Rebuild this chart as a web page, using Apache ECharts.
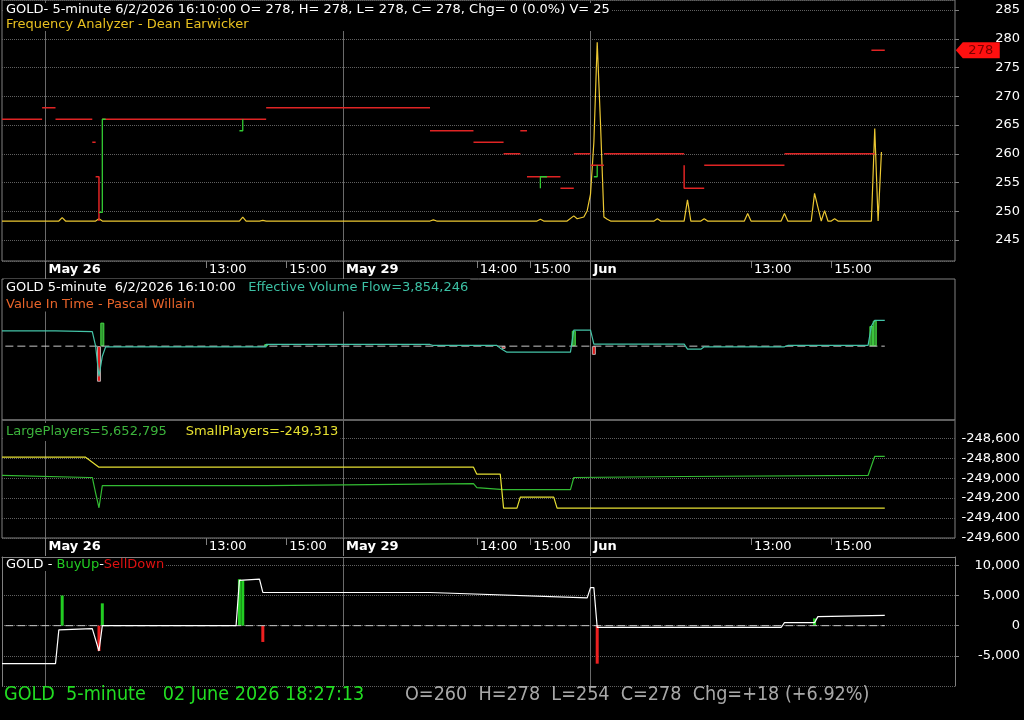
<!DOCTYPE html>
<html>
<head>
<meta charset="utf-8">
<script src="https://cdn.jsdelivr.net/npm/echarts@6/dist/echarts.min.js"></script>
<style>
html,body{margin:0;padding:0;background:#000;}
#chart{width:1024px;height:720px;}
</style>
</head>
<body>
<div id="chart"></div>
<script>
// bar index axis (5-minute bars)
var barCount = 286;
var xTicks = [[13,'May 26',1],[61,'13:00',0],[85,'15:00',0],[102,'May 29',1],[142,'14:00',0],[158,'15:00',0],[176,'Jun',1],[224,'13:00',0],[248,'15:00',0]];

// panel 1 - Frequency Analyzer
var freqLine = [[0,248.3],[17,248.3],[18,248.9],[19,248.3],[28,248.3],[29,248.7],[30,248.3],[71,248.3],[72,249.0],[73,248.3],[77,248.3],[78,248.4],[79,248.3],[128,248.3],[129,248.5],[130,248.3],[160,248.3],[161,248.6],[162,248.3],[169,248.3],[171,249.2],[172,248.7],[174,249.0],[175,250.1],[176,253],[177,262],[178,279.4],[179,265],[180,249.0],[181,248.6],[182,248.3],[195,248.3],[196,248.7],[197,248.3],[204,248.3],[205,252.0],[206,248.3],[209,248.3],[210,248.7],[211,248.3],[222,248.3],[223,249.6],[224,248.3],[233,248.3],[234,249.6],[235,248.3],[242,248.3],[243,253.1],[245,248.3],[246,250.1],[247,248.3],[248,248.3],[249,248.7],[250,248.3],[260,248.3],[261,264.4],[262,248.3],[263,260.3]];
var redLevels = [
  [[0,266],[12,266]], [[12,268],[16,268]], [[16,266],[27,266]], [[27,262],[28,262]],
  [[28,256],[29,256],[29,248.3]], [[30,266],[79,266]], [[79,268],[128,268]],
  [[128,264],[141,264]], [[141,262],[150,262]], [[150,260],[155,260]], [[155,264],[157,264]],
  [[157,256],[167,256]], [[167,254],[171,254]], [[171,260],[176,260]], [[176,258],[180,258]],
  [[180,260],[204,260]], [[204,258],[204,254],[210,254]], [[210,258],[234,258]],
  [[234,260],[261,260]], [[260,278],[264,278]]
];
var greenLevels = [
  [[29,249.8],[30,249.8],[30,266],[31,266]], [[71,264],[72,264],[72,266]],
  [[161,254],[161,256],[163,256]], [[177,256],[178,256],[178,258]]
];
var lastPrice = 278;

// panel 2 - Effective Volume Flow (millions)
var evfLine = [[0,2.28],[16,2.28],[16,2.16],[27,2.16],[28,0],[29,-4.5],[30,-1.5],[31,-0.1],[79,-0.1],[79,0.25],[128,0.25],[129,0.1],[148,0.1],[149,-0.3],[151,-0.9],[170,-0.9],[171,2.4],[176,2.4],[177,0.3],[204,0.3],[205,-0.45],[209,-0.45],[210,-0.1],[234,-0.1],[235,0.1],[259,0.1],[260,3.0],[261,3.85],[264,3.85]];
var evfHist = [[29,-5.3],[30,3.5],[79,0.3],[150,-0.4],[171,2.3],[177,-1.3],[260,3.0],[261,3.8]];

// panel 3 - players
var smallPlayers = [[0,-248790],[25,-248790],[29,-248890],[141,-248890],[142,-248960],[149,-248960],[150,-249300],[154,-249300],[155,-249190],[165,-249190],[166,-249300],[264,-249300]];
var largePlayers = [[0,3.75],[26,3.55],[27,3.55],[28,2.0],[29,0.55],[30,2.75],[79,2.75],[79,2.85],[141,2.95],[142,2.55],[150,2.35],[170,2.35],[171,3.55],[204,3.65],[259,3.75],[261,5.65],[264,5.65]];

// panel 4 - BuyUp-SellDown
var buySellLine = [[0,-6300],[16,-6300],[17,-700],[27,-500],[29,-4200],[30,0],[70,0],[71,7500],[77,7700],[78,5500],[128,5500],[175,4600],[176,6300],[177,6300],[178,-300],[233,-300],[234,500],[243,500],[244,1500],[264,1700]];
var buySellHist = [[18,5000],[29,-4200],[30,3700],[71,7700],[72,7500],[78,-2700],[178,-6300],[243,1200]];

var font = 'DejaVu Sans';
var narrowFont = "'Liberation Sans Narrow', 'DejaVu Sans Condensed', sans-serif";
var gridColor = '#808080';

initPage();

function initPage(){
  var myChart = echarts.init(document.getElementById('chart'));
  myChart.setOption(buildOption());
}

function joinSegments(segs){
  var out = [];
  for(var i=0;i<segs.length;i++){
    if(i>0) out.push([segs[i][0][0],'-']);
    for(var j=0;j<segs[i].length;j++) out.push(segs[i][j]);
  }
  return out;
}

// histogram items coloured by sign
function histItems(list, upStyle, downStyle){
  var out = [];
  for(var i=0;i<list.length;i++){
    out.push({value: list[i], itemStyle: list[i][1] >= 0 ? upStyle : downStyle});
  }
  return out;
}

function tickInfo(index){
  for(var i=0;i<xTicks.length;i++){
    if(xTicks[i][0]==index) return xTicks[i];
  }
  return null;
}

function makeXAxis(grid, showLabels, dayTicks, pos){
  var cats = [];
  for(var i=0;i<barCount;i++) cats.push(String(i));
  return {
    type: 'category', gridIndex: grid, data: cats, boundaryGap: false,
    position: pos || 'bottom',
    axisLine: {show: pos == 'top', onZero: false, lineStyle: {color: gridColor}},
    axisTick: {
      show: showLabels || dayTicks,
      length: dayTicks ? 18 : 7,
      interval: function(index){
        var t = tickInfo(index);
        return !!t && (dayTicks ? t[2]==1 : t[2]==0);
      },
      lineStyle: {color: gridColor}
    },
    axisLabel: {
      show: showLabels,
      interval: function(index){ return !!tickInfo(index); },
      formatter: function(value, index){
        var t = tickInfo(Number(value));
        if(!t) return '';
        return t[2] ? '{d|'+t[1]+'}' : '{t|'+t[1]+'}';
      },
      align: 'left', margin: 2, padding: [0,0,0,3],
      rich: {
        d: {color: '#fff', fontFamily: font, fontSize: 13, fontWeight: 'bold'},
        t: {color: '#fff', fontFamily: font, fontSize: 13}
      }
    },
    splitLine: {
      show: !dayTicks,
      interval: function(index){ var t = tickInfo(index); return !!t && t[2]==1; },
      lineStyle: {color: '#6a6a6a', width: 1}
    }
  };
}

function fmtThousands(v){
  var s = Math.abs(Math.round(v)).toString().replace(/\B(?=(\d{3})+(?!\d))/g, ',');
  return (v<0 ? '-' : '') + s;
}

function txt(color, size, lh){
  return {color: color, fontFamily: font, fontSize: size, fontWeight: 'normal', lineHeight: lh};
}

function buildOption(){
  var grids = [
    {left: 2, right: 69, top: 0, height: 261, show: true},
    {left: 2, right: 69, top: 279, height: 141, show: true},
    {left: 2, right: 69, top: 420, height: 118, show: true},
    {left: 2, right: 69, top: 557, height: 129, show: false}
  ];
  for(var i=0;i<grids.length;i++){
    grids[i].borderColor = gridColor;
    grids[i].borderWidth = 1;
    grids[i].backgroundColor = 'transparent';
  }
  var yLabel = {color: '#fff', fontFamily: font, fontSize: 13, align: 'right', margin: 65};
  var yTick = {show: true, length: 4, lineStyle: {color: gridColor}};
  var dotted = {show: true, lineStyle: {color: '#606060', type: 'dotted'}};

  var option = {
    backgroundColor: '#000',
    animation: false,
    textStyle: {fontFamily: font},
    grid: grids,
    xAxis: [
      makeXAxis(0, true, false), makeXAxis(0, false, true),
      makeXAxis(1, false, false),
      makeXAxis(2, true, false), makeXAxis(2, false, true),
      makeXAxis(3, false, false, 'top')
    ],
    yAxis: [
      {type: 'value', gridIndex: 0, position: 'right', min: 241.35, max: 286.74, splitNumber: 9,
        axisLine: {show: false}, axisTick: yTick, axisLabel: Object.assign({showMinLabel: false, showMaxLabel: false}, yLabel), splitLine: dotted},
      {type: 'value', gridIndex: 1, position: 'right', min: -11, max: 10, show: false, splitLine: {show: false}},
      {type: 'value', gridIndex: 2, position: 'right', min: -249600, max: -248417, interval: 200,
        axisLine: {show: false}, axisTick: {show: false},
        axisLabel: Object.assign({showMaxLabel: false, formatter: fmtThousands}, yLabel), splitLine: dotted},
      {type: 'value', gridIndex: 2, position: 'left', min: -2.45, max: 9.25, show: false, splitLine: {show: false}},
      {type: 'value', gridIndex: 3, position: 'right', min: -10000, max: 11380, interval: 5000,
        axisLine: {show: true, lineStyle: {color: gridColor}}, axisTick: yTick,
        axisLabel: Object.assign({showMinLabel: false, showMaxLabel: false, formatter: fmtThousands}, yLabel), splitLine: dotted},
      {type: 'value', gridIndex: 3, position: 'left', min: -10000, max: 11380,
        axisLine: {show: true, lineStyle: {color: gridColor}}, axisTick: {show: false}, axisLabel: {show: false}, splitLine: {show: false}}
    ],
    title: [
      {left: 4, top: 2, padding: [0,2], backgroundColor: '#000',
        text: '{w|GOLD- 5-minute 6/2/2026 16:10:00 O= 278, H= 278, L= 278, C= 278, Chg= 0 (0.0%) V= 25}\n{y|Frequency Analyzer - Dean Earwicker}',
        textStyle: {rich: {w: txt('#fff', 13, 15), y: txt('#e8c020', 13, 15)}}},
      {left: 4, top: 279, padding: [0,2], backgroundColor: '#000',
        text: '{w|GOLD 5-minute  6/2/2026 16:10:00}  {c|Effective Volume Flow=3,854,246}\n{o|Value In Time - Pascal Willain}',
        textStyle: {rich: {w: txt('#fff', 13, 16), c: txt('#3cc0a4', 13, 16), o: txt('#e8642a', 13, 16)}}},
      {left: 4, top: 423, padding: [0,2], backgroundColor: '#000',
        text: '{g|LargePlayers=5,652,795}   {y|SmallPlayers=-249,313}',
        textStyle: {rich: {g: txt('#3cb43c', 13, 15), y: txt('#e6e030', 13, 15)}}},
      {left: 4, top: 557, padding: [0,2], backgroundColor: '#000',
        text: '{w|GOLD - }{g|BuyUp}{w|-}{r|SellDown}',
        textStyle: {rich: {w: txt('#fff', 13, 15), g: txt('#22cc22', 13, 15), r: txt('#dd1111', 13, 15)}}},
      {left: 4, top: 683, padding: 0,
        text: 'GOLD  5-minute   02 June 2026 18:27:13',
        textStyle: {color: '#22dd22', fontFamily: narrowFont, fontSize: 19.6, fontWeight: 'normal', lineHeight: 24}},
      {left: 405, top: 683, padding: 0,
        text: 'O=260  H=278  L=254  C=278  Chg=+18 (+6.92%)',
        textStyle: {color: '#a8a8a8', fontFamily: narrowFont, fontSize: 19.6, fontWeight: 'normal', lineHeight: 24}}
    ],
    series: [
      {name: 'Frequency', type: 'line', xAxisIndex: 0, yAxisIndex: 0, data: freqLine,
        symbol: 'none', lineStyle: {color: '#ecc832', width: 1.2}},
      {name: 'Red levels', type: 'line', xAxisIndex: 0, yAxisIndex: 0, data: joinSegments(redLevels),
        symbol: 'none', connectNulls: false, lineStyle: {color: '#e02424', width: 1.5},
        markPoint: {
          symbol: 'path://M0,8 L7,0 L44,0 L44,16 L7,16 Z', symbolSize: [44,16], symbolOffset: [93,0],
          itemStyle: {color: '#ff1010'},
          label: {show: true, formatter: '{c}', color: '#7a0000', fontFamily: font, fontSize: 13, offset: [3,0]},
          data: [{coord: [264, lastPrice], value: lastPrice}]
        }},
      {name: 'Green levels', type: 'line', xAxisIndex: 0, yAxisIndex: 0, data: joinSegments(greenLevels),
        symbol: 'none', connectNulls: false, lineStyle: {color: '#33cc33', width: 1.3}},

      {name: 'EVF zero', type: 'line', xAxisIndex: 2, yAxisIndex: 1, data: [[1,0],[264,0]],
        symbol: 'none', lineStyle: {color: '#c8c8c8', width: 1, type: [8,4]}},
      {name: 'Effective Volume Flow', type: 'line', xAxisIndex: 2, yAxisIndex: 1, data: evfLine,
        symbol: 'none', lineStyle: {color: '#44c4a8', width: 1.2}},
      {name: 'EVF hist', type: 'bar', xAxisIndex: 2, yAxisIndex: 1, barWidth: 4,
        data: histItems(evfHist,
          {color: '#2e8f2e', borderColor: '#44dd44', borderWidth: 1},
          {color: '#e01818', borderColor: '#b8a8a8', borderWidth: 1})},

      {name: 'LargePlayers', type: 'line', xAxisIndex: 3, yAxisIndex: 3, data: largePlayers,
        symbol: 'none', lineStyle: {color: '#33bb33', width: 1.2}},
      {name: 'SmallPlayers', type: 'line', xAxisIndex: 3, yAxisIndex: 2, data: smallPlayers,
        symbol: 'none', lineStyle: {color: '#e6e033', width: 1.2}},

      {name: 'BS zero', type: 'line', xAxisIndex: 5, yAxisIndex: 4, data: [[1,0],[264,0]],
        symbol: 'none', lineStyle: {color: '#c8c8c8', width: 1, type: [8,4]}},
      {name: 'BS hist', type: 'bar', xAxisIndex: 5, yAxisIndex: 4, barWidth: 3,
        data: histItems(buySellHist, {color: '#22cc22'}, {color: '#ee2020'})},
      {name: 'BuyUp-SellDown', type: 'line', xAxisIndex: 5, yAxisIndex: 4, data: buySellLine,
        symbol: 'none', lineStyle: {color: '#ffffff', width: 1.2}}
    ]
  };
  return option;
}
</script>
</body>
</html>
